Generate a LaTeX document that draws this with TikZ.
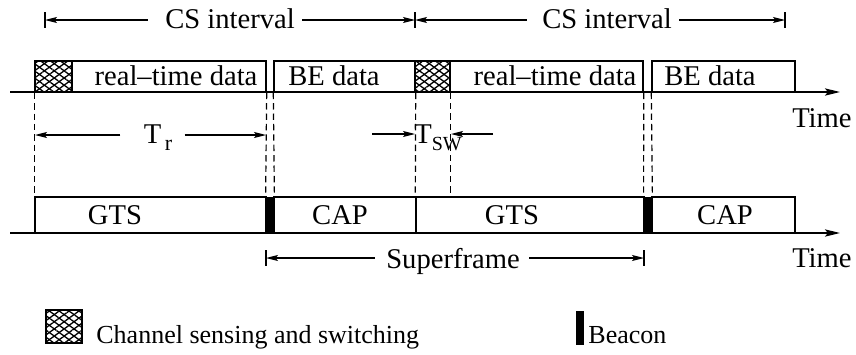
\documentclass[tikz,border=0pt]{standalone}
\usepackage{fontspec}
\setmainfont{Liberation Serif}
\usetikzlibrary{arrows.meta,patterns.meta,fit,calc}
\begin{document}
\begin{tikzpicture}[x=0.5pt,y=-0.5pt,
  font=\fontsize{14.3}{17}\selectfont,
  box/.style={draw, line width=0.7pt, inner sep=0pt},
  hatchbox/.style={draw, line width=0.6pt, inner sep=0pt,
    pattern={Lines[angle=36,distance=2.9pt,line width=0.65pt]},
    preaction={pattern={Lines[angle=-36,distance=2.9pt,line width=0.65pt]}}},
  beacon/.style={draw, fill=black, inner sep=0pt},
  timeline/.style={line width=0.9pt, -{Stealth[length=7.5pt,width=3.6pt,inset=1.5pt]}},
  vdash/.style={line width=0.6pt, dash pattern=on 3.2pt off 2pt},
  dim/.style={line width=0.6pt, -{Stealth[length=6pt,width=3pt,inset=1.2pt]}},
  tick/.style={line width=0.6pt},
  lbl/.style={inner sep=0pt, anchor=base},
  legendtext/.style={inner sep=0pt, anchor=base west, font=\fontsize{13}{15}\selectfont},
]
\useasboundingbox (0,0) rectangle (856,354);

% ---------- top row ----------
\coordinate (ta) at (10,92);
\coordinate (tb) at (840,92);
\node[box, fit={(35,61)(266,92)}] (rt1) {};
\node[hatchbox, fit={(35,61)(72,92)}] (h1) {};
\node[box, fit={(274,61)(415,92)}] (be1) {};
\node[box, fit={(415,61)(643,92)}] (rt2) {};
\node[hatchbox, fit={(415,61)(450,92)}] (h2) {};
\node[box, fit={(652,61)(795,92)}] (be2) {};
\draw[timeline] (ta) -- (tb);

\node[lbl] (trt1) at (176,85) {real–time data};
\node[lbl] (tbe1) at (334,85) {BE data};
\node[lbl] (trt2) at (555,85) {real–time data};
\node[lbl] (tbe2) at (710,85) {BE data};

% ---------- bottom row ----------
\coordinate (ba) at (10,233);
\coordinate (bb) at (840,233);
\node[box, fit={(35,197)(266,233)}] (gts1) {};
\node[beacon, fit={(266,197)(274,233)}] (bc1) {};
\node[box, fit={(274,197)(416,233)}] (cap1) {};
\node[box, fit={(416,197)(644,233)}] (gts2) {};
\node[beacon, fit={(644,197)(652,233)}] (bc2) {};
\node[box, fit={(652,197)(795,233)}] (cap2) {};
\draw[timeline] (ba) -- (bb);

\node[lbl] (tg1) at (115,224) {GTS};
\node[lbl] (tc1) at (340,224) {CAP};
\node[lbl] (tg2) at (512,224) {GTS};
\node[lbl] (tc2) at (725,224) {CAP};

% ---------- dashed guides ----------
\draw[vdash] (rt1.south west) -- (gts1.north west);
\draw[vdash] (rt1.south east) -- (bc1.north west);
\draw[vdash] (be1.south west) -- (bc1.north east);
\draw[vdash] (be1.south east) -- (gts2.north west);
\draw[vdash] (h2.south east) -- (h2.south east |- gts2.north);
\draw[vdash] (rt2.south east) -- (bc2.north west);
\draw[vdash] (be2.south west) -- (bc2.north east);

% ---------- CS interval ----------
\coordinate (c0) at (45,20);
\coordinate (c1) at (415,20);
\coordinate (c2) at (785,20);
\node[lbl] (cs1) at (230,28) {CS interval};
\node[lbl] (cs2) at (607,28) {CS interval};
\coordinate (cs1l) at ($(cs1.west |- c0)+(-17,0)$);
\coordinate (cs1r) at ($(cs1.east |- c0)+(7,0)$);
\coordinate (cs2l) at ($(cs2.west |- c0)+(-15,0)$);
\coordinate (cs2r) at ($(cs2.east |- c0)+(7,0)$);
\draw[dim] (cs1l) -- (c0);
\draw[dim] (cs1r) -- (c1);
\draw[dim] (cs2l) -- (c1);
\draw[dim] (cs2r) -- (c2);
\foreach \c in {c0,c1,c2} \draw[tick] ($(\c)+(0,-8)$) -- ($(\c)+(0,8)$);

% ---------- T_r ----------
\coordinate (r0) at (35,135);
\coordinate (r1) at (266,135);
\node[lbl] (tr) at (158,143) {T\kern0.12em\raisebox{-0.55ex}{\fontsize{11}{11}\selectfont r}};
\coordinate (trl) at ($(tr.west |- r0)+(-23,0)$);
\coordinate (trr) at ($(tr.east |- r0)+(12,0)$);
\draw[dim] (trl) -- (r0);
\draw[dim] (trr) -- (r1);

% ---------- T_SW ----------
\coordinate (s0) at (415,134);
\coordinate (s1) at (451,134);
\coordinate (s0a) at (372,134);
\coordinate (s1a) at (493,134);
\node[lbl, anchor=base west] (tsw) at (414,143) {T\raisebox{-0.55ex}{\fontsize{10}{10}\selectfont SW}};
\draw[dim] (s0a) -- (s0);
\draw[dim] (s1a) -- (s1);

% ---------- Superframe ----------
\coordinate (f0) at (266,258);
\coordinate (f1) at (644,258);
\node[lbl] (sf) at (453,268) {Superframe};
\coordinate (sfl) at ($(sf.west |- f0)+(-11,0)$);
\coordinate (sfr) at ($(sf.east |- f0)+(9,0)$);
\draw[dim] (sfl) -- (f0);
\draw[dim] (sfr) -- (f1);
\foreach \c in {f0,f1} \draw[tick] ($(\c)+(0,-8)$) -- ($(\c)+(0,8)$);

% ---------- Time labels ----------
\node[lbl, anchor=base east] (time1) at (852,127) {Time};
\node[lbl, anchor=base east] (time2) at (852,267) {Time};

% ---------- legend ----------
\node[hatchbox, fit={(46,310)(82,343)}] (lh) {};
\node[legendtext] (lht) at (96,343) {Channel sensing and switching};
\node[beacon, fit={(576,311)(583,344)}] (lb) {};
\node[legendtext] (lbt) at (588,343) {Beacon};
\end{tikzpicture}
\end{document}
